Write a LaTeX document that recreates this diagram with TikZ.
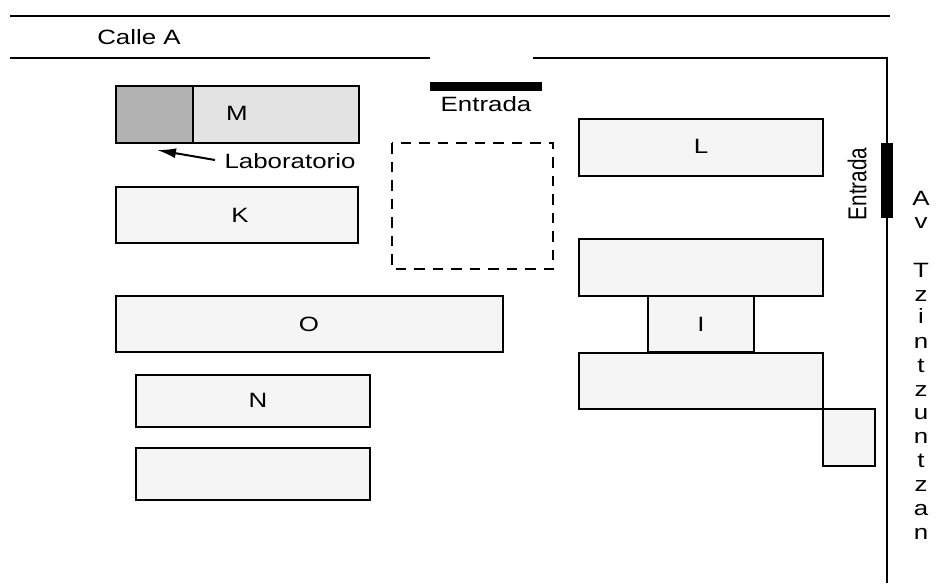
\documentclass[tikz,border=0pt]{standalone}
\usepackage{fontspec}
\setmainfont{Liberation Sans}
\usetikzlibrary{arrows.meta}
\newcommand{\wide}[1]{\scalebox{1.25}[1]{#1}}
\tikzset{
  plan/.style={draw=black,line width=2.4pt,line cap=rect},
  bldg/.style={draw=black,line width=2.4pt,fill=black!4},
  lbl/.style={font=\fontsize{20.7}{24}\selectfont,inner sep=0pt,anchor=base},
  gate/.style={fill=black,draw=none},
}
\begin{document}
\begin{tikzpicture}[x=1pt,y=-1pt]
\useasboundingbox (0,0) rectangle (941,583);
\fill[white] (0,0) rectangle (941,583);
% streets
\coordinate (s1) at (11,16); \coordinate (s2) at (889,16);
\draw[plan] (s1) -- (s2);
\coordinate (s3) at (11,58); \coordinate (s4) at (429,58);
\draw[plan] (s3) -- (s4);
\coordinate (s5) at (533,58); \coordinate (s6) at (887,58); \coordinate (s7) at (887,583);
\draw[plan,line cap=butt] (s5) -- (s6) -- (s7);
% gates
\fill[gate] (430,82) rectangle (542,91);
\fill[gate] (881,143) rectangle (893,218);
% dashed square
\draw[black,line width=1.5pt,dash pattern=on 10.5pt off 8pt] (392,143) rectangle (553,269);
% buildings
\draw[bldg,fill=black!11] (116,86) rectangle (359,143);
\draw[bldg,fill=black!30] (116,86) rectangle (193,143);
\draw[bldg] (116,187) rectangle (358,243);
\draw[bldg] (116,296) rectangle (503,352);
\draw[bldg] (136,375) rectangle (370,427);
\draw[bldg] (136,448) rectangle (370,500);
\draw[bldg] (579,119) rectangle (823,176);
\draw[bldg] (579,239) rectangle (823,296);
\draw[bldg] (579,353) rectangle (823,409);
\draw[bldg] (648,296) rectangle (754,352);
\draw[bldg] (823,409) rectangle (875,466);
% labels
\node[lbl] (calle) at (139,45) {\wide{Calle A}};
\node[lbl] (ent1) at (486,112) {\wide{Entrada}};
\node[font=\fontsize{20.7}{24}\selectfont,inner sep=0pt] (ent2) at (857,184) {\wide{\rotatebox{90}{Entrada}}};
\node[lbl] (M) at (237,121) {\wide{M}};
\node[lbl] (K) at (240,222) {\wide{K}};
\node[lbl] (O) at (309,331) {\wide{O}};
\node[lbl] (N) at (258,407) {\wide{N}};
\node[lbl] (L) at (701,153) {\wide{L}};
\node[lbl] (I) at (701,331) {\wide{I}};
\node[lbl] (lab) at (290,168) {\wide{Laboratorio}};
\coordinate (labtip) at (157,150);
\coordinate (labtail) at (215,160);
\draw[-{Latex[length=19pt,width=10pt]},line width=2pt] (labtail) -- (labtip);
% avenue
\foreach \t/\y in {A/205,v/228,T/277,z/301,i/323,n/348,t/372,z/396,u/419,n/443,t/467,z/491,a/515,n/539}
  \node[lbl] at (921,\y) {\wide{\t}};
\end{tikzpicture}
\end{document}
